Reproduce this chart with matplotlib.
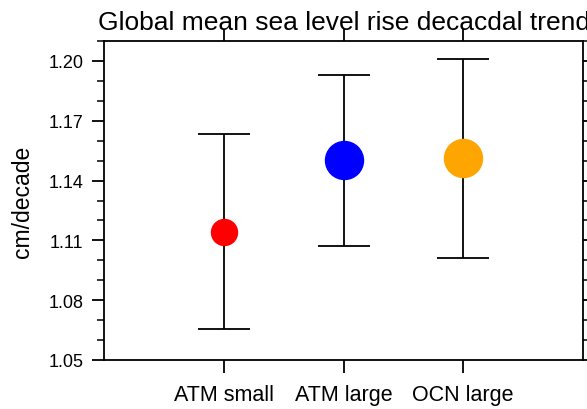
import numpy as np
import matplotlib.pyplot as plt
from matplotlib.ticker import MultipleLocator

plt.rcParams['font.family'] = ['Liberation Sans', 'DejaVu Sans']

# data
labels = ['ATM small', 'ATM large', 'OCN large']
means = [1.1142, 1.1503, 1.1514]
upper = [1.1634, 1.1930, 1.2010]
lower = [1.0656, 1.1072, 1.1012]
colors = ['red', 'blue', 'orange']
sizes = [13, 19, 19]

fig = plt.figure(figsize=(5.87, 4.10), dpi=100)
ax = fig.add_axes([104/587, 1 - 361/410, (583-104)/587, (361-42)/410])

x = np.arange(1, len(labels) + 1)
for xi, m, hi, lo, c, s in zip(x, means, upper, lower, colors, sizes):
    ax.errorbar(xi, m, yerr=[[m - lo], [hi - m]], fmt='none', ecolor='black',
                elinewidth=1.3, capsize=18.5, capthick=1.3, zorder=1)
    ax.plot(xi, m, 'o', color=c, markersize=2*s*0.72, zorder=2)

ax.set_xlim(0, 4)
ax.set_ylim(1.05, 1.21)
ax.set_xticks(x)
ax.set_xticklabels(labels)
ax.set_yticks([1.05, 1.08, 1.11, 1.14, 1.17, 1.20])
ax.set_yticklabels(['1.05', '1.08', '1.11', '1.14', '1.17', '1.20'])
ax.yaxis.set_minor_locator(MultipleLocator(0.01))
ax.tick_params(axis='both', which='major', direction='out', length=9, width=1.3,
               top=True, right=True)
ax.tick_params(axis='y', labelsize=13, pad=6)
ax.tick_params(axis='x', labelsize=15.5, pad=8)
ax.tick_params(axis='y', which='minor', direction='out', length=5, width=1.1,
               right=True, left=True)
for sp in ax.spines.values():
    sp.set_linewidth(1.3)

ax.set_ylabel('cm/decade', fontsize=16.5, labelpad=10)
ax.set_title('Global mean sea level rise decacdal trend', fontsize=19, pad=9)

fig.savefig('out.png', dpi=100)
